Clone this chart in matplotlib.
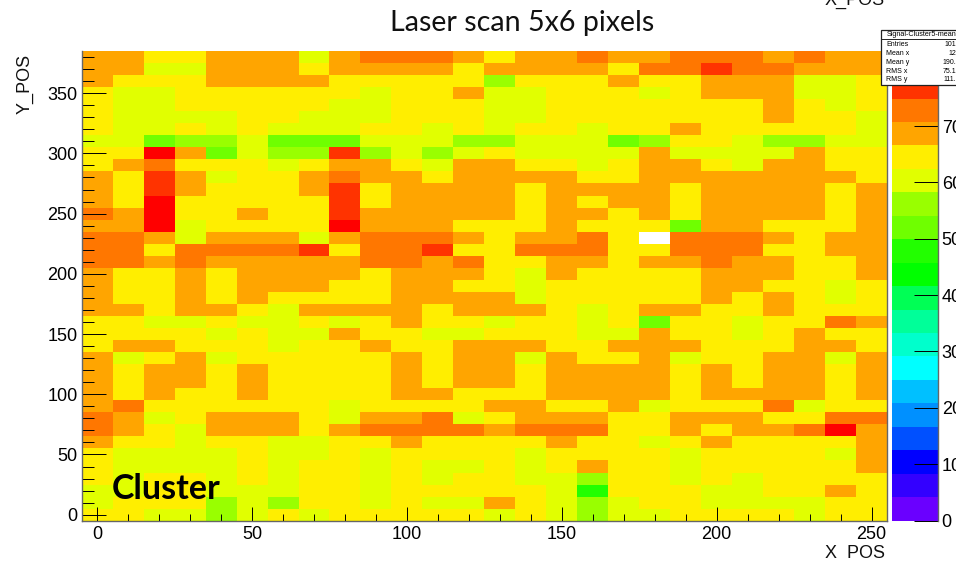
import numpy as np
import matplotlib
matplotlib.use('Agg')
import matplotlib.pyplot as plt
from matplotlib.colors import ListedColormap, BoundaryNorm
from matplotlib.patches import Rectangle
from matplotlib.ticker import MultipleLocator

x_edges = np.arange(-5, 256, 10)
y_edges = np.arange(-5, 386, 10)

# cell values, top row first (nan = empty bin)
nan = float('nan')
signal_rows = [
    [68,68,64,64,68,68,68,60,68,72,72,72,68,64,68,68,72,68,68,72,72,72,68,72,68,68],
    [68,68,60,60,68,68,68,64,68,68,68,68,64,68,68,68,68,64,72,72,76,72,72,68,68,68],
    [68,64,64,64,68,68,68,68,64,64,64,64,64,56,64,64,64,68,64,64,68,68,68,60,60,64],
    [64,60,60,64,64,64,64,64,64,60,64,64,68,60,60,64,64,64,60,64,68,68,68,60,60,64],
    [64,60,60,64,64,64,64,64,60,60,64,64,64,60,60,64,64,64,64,64,64,64,68,64,60,64],
    [64,60,60,60,60,64,64,60,60,60,64,64,64,60,60,64,64,64,64,64,64,64,68,64,64,60],
    [64,60,60,64,60,64,60,60,60,64,64,60,64,60,64,64,60,64,64,68,64,64,64,64,64,60],
    [60,60,52,56,56,60,52,52,52,60,60,60,56,56,60,60,60,52,56,64,64,60,56,56,60,60],
    [64,64,80,68,52,60,56,56,76,56,60,56,60,64,60,60,60,60,68,60,60,60,60,68,64,64],
    [64,68,72,64,64,64,60,64,68,68,64,60,68,68,64,64,60,64,68,68,64,60,68,68,64,64],
    [68,64,76,68,60,64,64,68,72,68,68,64,68,68,68,68,64,64,68,68,68,68,68,68,68,64],
    [68,64,76,68,64,64,64,68,76,64,68,68,68,68,64,68,68,68,68,64,68,68,68,68,64,68],
    [68,64,80,64,64,64,64,64,76,64,68,68,68,68,64,68,64,68,68,64,68,68,68,68,64,68],
    [72,68,80,64,64,68,64,64,76,68,68,68,68,68,64,68,68,64,68,64,68,68,68,68,64,68],
    [68,68,80,60,64,64,64,64,80,68,68,68,64,64,64,68,64,64,64,52,68,68,64,64,64,68],
    [72,72,68,60,68,68,68,60,68,72,72,72,68,64,68,68,72,64,nan,72,72,72,68,64,68,68],
    [72,72,64,72,72,72,72,76,64,72,72,76,64,64,72,72,72,64,64,72,72,72,64,64,68,68],
    [72,72,68,72,68,68,68,68,68,72,72,68,72,64,64,68,68,64,68,68,72,68,68,64,64,68],
    [68,64,64,68,64,68,68,68,68,64,68,68,68,64,60,68,64,64,64,64,68,68,68,64,64,68],
    [68,64,64,68,64,68,68,68,64,64,68,68,64,64,60,64,64,64,64,64,68,68,64,64,60,64],
    [68,64,64,68,64,68,64,64,64,64,68,68,68,68,60,64,64,64,64,64,68,64,68,64,60,64],
    [68,68,64,68,68,64,60,68,68,68,68,64,68,68,68,64,60,64,68,68,64,64,68,64,64,64],
    [64,64,60,60,64,60,60,64,60,64,68,64,64,60,64,64,60,64,52,64,64,60,64,64,72,68],
    [64,64,64,64,60,64,60,60,68,64,64,60,60,64,64,64,60,60,68,64,64,60,64,68,64,64],
    [64,68,68,64,64,64,60,64,64,68,64,64,68,68,68,64,64,68,68,68,64,64,64,68,68,64],
    [68,60,64,68,60,64,64,64,64,64,68,64,68,68,60,68,64,64,68,60,64,64,68,68,60,68],
    [68,64,68,68,64,68,64,64,64,64,68,64,68,68,64,68,68,68,68,64,68,64,68,68,64,68],
    [68,64,68,68,64,68,64,64,64,64,68,64,68,68,64,68,68,68,68,64,68,64,68,68,64,68],
    [68,64,68,64,64,68,64,64,64,64,68,68,64,64,64,68,68,68,68,64,68,68,68,68,64,68],
    [68,72,64,64,64,64,64,64,60,64,64,64,64,68,68,64,64,68,60,64,64,64,72,60,64,64],
    [72,68,60,64,68,68,68,64,60,68,68,72,60,64,68,68,68,64,64,68,68,68,64,64,72,72],
    [72,68,64,60,68,68,68,64,68,72,72,72,72,68,72,72,72,64,64,68,64,68,68,72,80,68],
    [68,64,64,60,64,64,60,60,64,64,68,64,64,64,64,68,64,64,60,64,68,64,64,64,64,68],
    [64,60,60,60,60,64,60,60,64,60,64,64,64,64,60,64,64,64,64,60,64,64,64,64,60,68],
    [64,60,60,60,60,64,60,64,64,60,64,60,60,64,60,64,68,64,64,60,64,64,64,64,64,68],
    [64,60,64,64,60,64,60,64,64,60,64,60,64,64,60,60,56,64,64,60,64,60,64,64,64,64],
    [60,60,64,64,60,60,60,64,64,60,64,64,64,64,64,60,48,64,64,64,60,60,64,64,68,64],
    [60,64,64,64,56,60,56,64,64,60,64,60,60,68,64,60,56,60,64,64,60,60,60,60,64,64],
    [64,64,60,60,56,60,64,60,64,64,64,64,64,60,64,60,56,60,60,64,64,64,64,60,64,64],
]

band_colors = ['#6a00ff', '#3300ff', '#0000ff', '#0050ff', '#0090ff', '#00c0ff', '#00ffff',
               '#00ffcc', '#00ff99', '#00ff55', '#00ff00', '#22ff00', '#6fff00', '#99ff00',
               '#e1ff00', '#ffee00', '#ffa500', '#ff7700', '#ff3300', '#ff0000']
levels = np.linspace(0, 83.2, 21)
z_ticks = [0, 10, 20, 30, 40, 50, 60, 70]

stat_names = ['Entries', 'Mean x', 'Mean y', 'RMS x', 'RMS y']
stat_values = ['101', '12', '190.', '75.1', '111.']
stat_y = [44.7, 53.3, 62, 71.7, 79.7]

W, H = 956, 562
plt.rcParams['font.family'] = ['Liberation Sans', 'DejaVu Sans']


def fx(px):
    return px / W


def fy(py):
    return 1 - py / H


fig = plt.figure(figsize=(W / 100, H / 100), dpi=100)
ax = fig.add_axes([fx(81.7), fy(520.7), fx(887 - 81.7), (520.7 - 51) / H])

cmap = ListedColormap(band_colors)
cmap.set_bad('white')
norm = BoundaryNorm(levels, cmap.N)
z = np.array(signal_rows)[::-1]
mesh = ax.pcolormesh(x_edges, y_edges, z, cmap=cmap, norm=norm)

ax.set_xlim(-5, 255)
ax.set_ylim(-5, 385)
ax.xaxis.set_major_locator(MultipleLocator(50))
ax.xaxis.set_minor_locator(MultipleLocator(10))
ax.yaxis.set_major_locator(MultipleLocator(50))
ax.yaxis.set_minor_locator(MultipleLocator(10))
ax.tick_params(axis='x', which='major', direction='in', length=10, width=0.7, labelsize=13, pad=4)
ax.tick_params(axis='x', which='minor', direction='in', length=5, width=0.7)
ax.tick_params(axis='y', which='major', direction='in', length=17.3, width=0.7, labelsize=13, pad=3)
ax.tick_params(axis='y', which='minor', direction='in', length=8.6, width=0.7)
ax.spines['top'].set_visible(False)
for side in ['left', 'bottom', 'right']:
    ax.spines[side].set_color('#666666')
    ax.spines[side].set_linewidth(1.0)

fig.text(fx(522), fy(23), 'Laser scan 5x6 pixels', ha='center', va='center', fontsize=20.6,
         family='Lato', color='#111111')
fig.text(fx(885), fy(553), 'X  POS', ha='right', va='center', fontsize=13, color='#111111')
fig.text(fx(885), fy(0), 'X_POS', ha='right', va='center', fontsize=13, color='#111111')
fig.text(fx(25), fy(84), 'Y_POS', ha='center', va='center', rotation=90, fontsize=13, color='#111111')
fig.text(fx(112), fy(489), 'Cluster', ha='left', va='center', fontsize=24.5, fontweight='bold',
         family='Lato', color='black')

# colour bar, hidden at the top by the stats box
cax = fig.add_axes([fx(892), fy(520.5), fx(937.5 - 892), (520.5 - 51.7) / H])
cbar = fig.colorbar(mesh, cax=cax, ticks=z_ticks, spacing='proportional')
cbar.outline.set_visible(False)
cax.tick_params(axis='y', which='major', direction='in', length=17.3, width=0.7, labelsize=13, pad=3)
cax.minorticks_off()
fig.add_artist(plt.Line2D([fx(937.5), fx(937.5)], [fy(520.5), fy(84)], transform=fig.transFigure,
                          color='#666666', linewidth=1.0))

# stats box
fig.add_artist(Rectangle((fx(881), fy(84.5)), fx(90), 54.2 / H, transform=fig.transFigure,
                         facecolor='white', edgecolor='#222222', linewidth=0.9, zorder=5))
fig.add_artist(plt.Line2D([fx(881), fx(956)], [fy(39), fy(39)], transform=fig.transFigure,
                          color='#222222', linewidth=0.7, zorder=6))
fig.text(fx(886.5), fy(35), 'Signal-Cluster5-mean', fontsize=5.2, va='center', zorder=7)
for name, value, py in zip(stat_names, stat_values, stat_y):
    fig.text(fx(886), fy(py), name, fontsize=5, va='center', zorder=7)
    fig.text(fx(956), fy(py), value, fontsize=5, va='center', ha='right', zorder=7)

fig.savefig('out.png', dpi=100)
